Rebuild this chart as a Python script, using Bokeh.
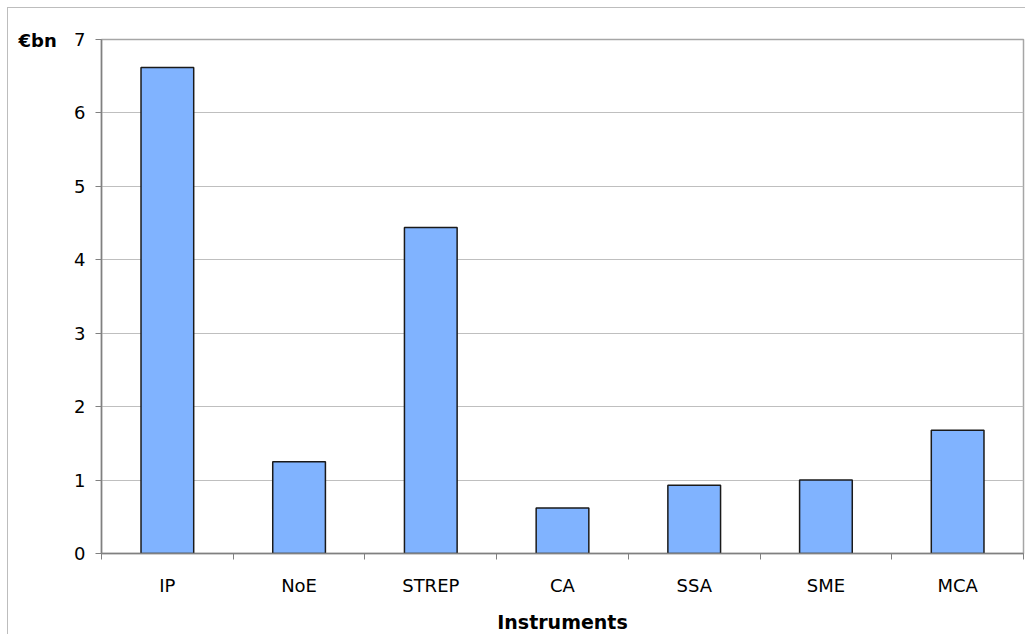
from bokeh.plotting import figure
from bokeh.models import FixedTicker, Range1d, Title
from bokeh.embed import file_html
from bokeh.resources import INLINE
import numpy as np

categories = ["IP", "NoE", "STREP", "CA", "SSA", "SME", "MCA"]
values = [6.62, 1.25, 4.44, 0.62, 0.93, 1.00, 1.68]
y_ticks = [0, 1, 2, 3, 4, 5, 6, 7]
y_unit = "€bn"
x_title = "Instruments"

FONT = "DejaVu Sans"
n = len(categories)
xs = np.arange(n) + 0.5

p = figure(width=1018, height=627, output_backend="svg", toolbar_location=None,
           x_range=Range1d(0, n), y_range=Range1d(0, 7),
           min_border_left=93, min_border_top=31, min_border_right=3, min_border_bottom=82)
p.styles = {"margin-left": "7px", "margin-top": "7px",
            "border-left": "1px solid #bdbdbd", "border-top": "1px solid #bdbdbd"}

p.vbar(x=xs, top=values, width=0.4, bottom=0,
       fill_color="#80b3ff", line_color="#1a1a1a", line_width=1.5)

# frame
p.outline_line_color = "#a6a6a6"
p.outline_line_width = 1.5
p.background_fill_color = "white"
p.border_fill_color = "white"

# grid
p.xgrid.grid_line_color = None
p.ygrid.ticker = FixedTicker(ticks=y_ticks)
p.ygrid.grid_line_color = "#bfbfbf"
p.ygrid.grid_line_width = 1

# y axis
p.yaxis.ticker = FixedTicker(ticks=y_ticks)
p.yaxis.axis_line_color = "#808080"
p.yaxis.axis_line_width = 1.5
p.yaxis.major_tick_line_color = "#808080"
p.yaxis.major_tick_out = 6
p.yaxis.major_tick_in = 0
p.yaxis.minor_tick_line_color = None
p.yaxis.major_label_standoff = 10
p.yaxis.major_label_text_font = FONT
p.yaxis.major_label_text_font_size = "18px"
p.yaxis.major_label_text_color = "#000000"

# x axis
p.xaxis.ticker = FixedTicker(ticks=list(xs), minor_ticks=list(range(n + 1)))
p.xaxis.major_label_overrides = {float(x): c for x, c in zip(xs, categories)}
p.xaxis.axis_line_color = "#808080"
p.xaxis.axis_line_width = 1.5
p.xaxis.major_tick_line_color = None
p.xaxis.major_tick_out = 0
p.xaxis.major_tick_in = 0
p.xaxis.minor_tick_line_color = "#808080"
p.xaxis.minor_tick_out = 6
p.xaxis.minor_tick_in = 0
p.xaxis.major_label_standoff = 15
p.xaxis.major_label_text_font = FONT
p.xaxis.major_label_text_font_size = "18px"
p.xaxis.major_label_text_color = "#000000"
p.xaxis.axis_label = x_title
p.xaxis.axis_label_text_font = FONT
p.xaxis.axis_label_text_font_size = "19px"
p.xaxis.axis_label_text_font_style = "bold"
p.xaxis.axis_label_text_color = "#000000"
p.xaxis.axis_label_standoff = 12

unit = Title(text=y_unit, align="left", offset=-83, standoff=-23,
             text_font=FONT, text_font_size="18px", text_font_style="bold",
             text_color="#000000")
p.add_layout(unit, "above")

open("out.html", "w").write(file_html(p, INLINE))
